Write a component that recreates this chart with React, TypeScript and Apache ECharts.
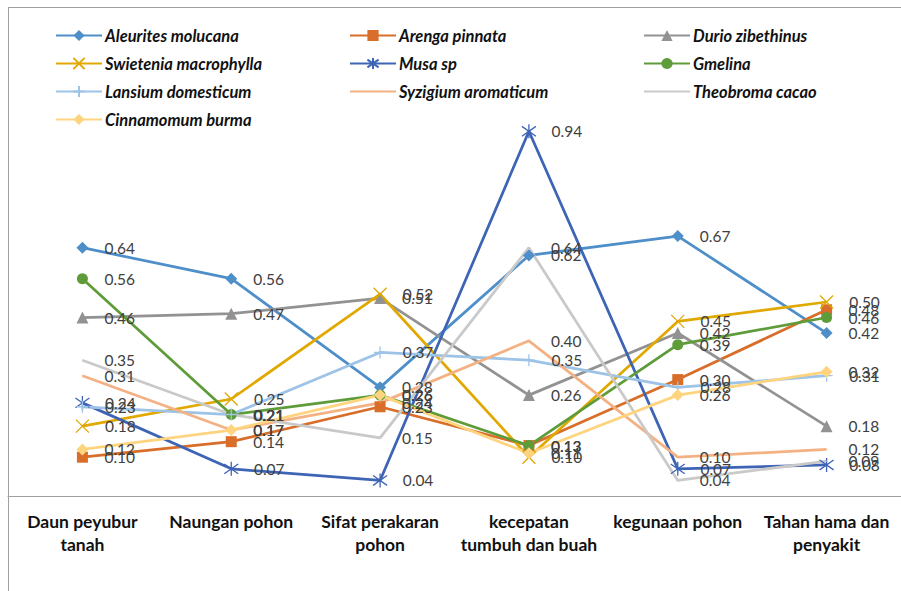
import React, { useEffect, useRef } from "react";
import * as echarts from "echarts";

const categories = [
  "Daun peyubur\ntanah",
  "Naungan pohon",
  "Sifat perakaran\npohon",
  "kecepatan\ntumbuh dan buah",
  "kegunaan pohon",
  "Tahan hama dan\npenyakit",
];

const aleurites = [0.64, 0.56, 0.28, 0.62, 0.67, 0.42];
const arenga = [0.10, 0.14, 0.23, 0.13, 0.30, 0.48];
const durio = [0.46, 0.47, 0.51, 0.26, 0.42, 0.18];
const swietenia = [0.18, 0.25, 0.52, 0.10, 0.45, 0.50];
const musa = [0.24, 0.07, 0.04, 0.94, 0.07, 0.08];
const gmelina = [0.56, 0.21, 0.26, 0.13, 0.39, 0.46];
const lansium = [0.23, 0.21, 0.37, 0.35, 0.28, 0.31];
const syzigium = [0.31, 0.17, 0.24, 0.40, 0.10, 0.12];
const theobroma = [0.35, 0.21, 0.15, 0.64, 0.04, 0.09];
const cinnamomum = [0.12, 0.17, 0.26, 0.11, 0.26, 0.32];

const X_PATH = "path://M0,0L10,10M10,0L0,10";
const STAR_PATH = "path://M0,1.5L10,8.5M10,1.5L0,8.5M5,0L5,10";
const PLUS_PATH = "path://M5,0L5,10M0,5L10,5";

type Def = {
  name: string;
  data: number[];
  color: string;
  symbol: string;
  size: number;
  stroke?: boolean;
  plain?: boolean;
};

const defs: Def[] = [
  { name: "Aleurites molucana", data: aleurites, color: "#4E8FCA", symbol: "diamond", size: 12 },
  { name: "Arenga pinnata", data: arenga, color: "#D86E2A", symbol: "rect", size: 11 },
  { name: "Durio zibethinus", data: durio, color: "#929292", symbol: "triangle", size: 12 },
  { name: "Swietenia macrophylla", data: swietenia, color: "#E0A800", symbol: X_PATH, size: 13, stroke: true },
  { name: "Musa sp", data: musa, color: "#3E64B5", symbol: STAR_PATH, size: 14, stroke: true },
  { name: "Gmelina", data: gmelina, color: "#5E9C3A", symbol: "circle", size: 11 },
  { name: "Lansium domesticum", data: lansium, color: "#9DC3E6", symbol: PLUS_PATH, size: 12, stroke: true },
  { name: "Syzigium aromaticum", data: syzigium, color: "#F4B183", symbol: "circle", size: 1, plain: true },
  { name: "Theobroma cacao", data: theobroma, color: "#C9C9C9", symbol: "circle", size: 1, plain: true },
  { name: "Cinnamomum burma", data: cinnamomum, color: "#FFD47F", symbol: "diamond", size: 12 },
];

const legendCols = [
  ["Aleurites molucana", "Swietenia macrophylla", "Lansium domesticum", "Cinnamomum burma"],
  ["Arenga pinnata", "Musa sp", "Syzigium aromaticum"],
  ["Durio zibethinus", "Gmelina", "Theobroma cacao"],
];
const legendLefts = [55, 349, 643];

export default function App() {
  const ref = useRef<HTMLDivElement>(null);
  useEffect(() => {
    document.body.style.margin = "0";
    const chart = echarts.init(ref.current!, null, { renderer: "svg" });
    const series = defs.map((d) => ({
      name: d.name,
      type: "line",
      data: d.data,
      symbol: d.symbol,
      symbolSize: d.size,
      showAllSymbol: true,
      lineStyle: { color: d.color, width: 2.75 },
      itemStyle: d.stroke
        ? { color: d.color, borderColor: d.color, borderWidth: 1.3 }
        : { color: d.color, borderWidth: 0 },
      label: {
        show: true,
        position: "right",
        distance: 22 - d.size / 2,
        formatter: (p: any) => Number(p.value).toFixed(2),
        color: "#404040",
        fontSize: 15.5,
        fontFamily: "Lato",
      },
      emphasis: { disabled: true },
    }));
    const plainNames = defs.filter((d) => d.plain).map((d) => d.name);
    chart.setOption({
      animation: false,
      backgroundColor: "#ffffff",
      grid: { left: 8, right: -4, top: 108, bottom: 95 },
      legend: legendCols.map((col, i) => ({
        data: col.map((n) =>
          plainNames.includes(n) ? { name: n, itemStyle: { opacity: 0 } } : n
        ),
        orient: "vertical",
        left: legendLefts[i],
        top: 27,
        itemWidth: 46,
        itemHeight: 14,
        itemGap: 11,
        padding: 0,
        selectedMode: false,
        textStyle: {
          fontFamily: "Lato",
          fontStyle: "italic",
          fontWeight: "bold",
          fontSize: 16.5,
          color: "#111111",
          lineHeight: 14,
          padding: [0, 0, 0, -2],
        },
      })),
      xAxis: {
        type: "category",
        data: categories,
        boundaryGap: true,
        axisLine: { show: true, lineStyle: { color: "#A0A0A0", width: 1 } },
        axisTick: { show: false },
        axisLabel: {
          interval: 0,
          margin: 14,
          fontFamily: "Lato",
          fontWeight: "bold",
          fontSize: 17.5,
          lineHeight: 23,
          color: "#111111",
          align: "center",
        },
      },
      yAxis: {
        type: "value",
        min: 0,
        max: 1,
        show: false,
        splitLine: { show: false },
      },
      graphic: [
        { type: "line", shape: { x1: 8.5, y1: 7, x2: 8.5, y2: 591 }, style: { stroke: "#A0A0A0", lineWidth: 1 } },
        { type: "line", shape: { x1: 8, y1: 7.5, x2: 901, y2: 7.5 }, style: { stroke: "#A0A0A0", lineWidth: 1 } },
      ],
      series,
    } as any);
    return () => chart.dispose();
  }, []);
  return (
    <div
      ref={ref}
      style={{ position: "absolute", left: 0, top: 0, width: 901, height: 591 }}
    />
  );
}
